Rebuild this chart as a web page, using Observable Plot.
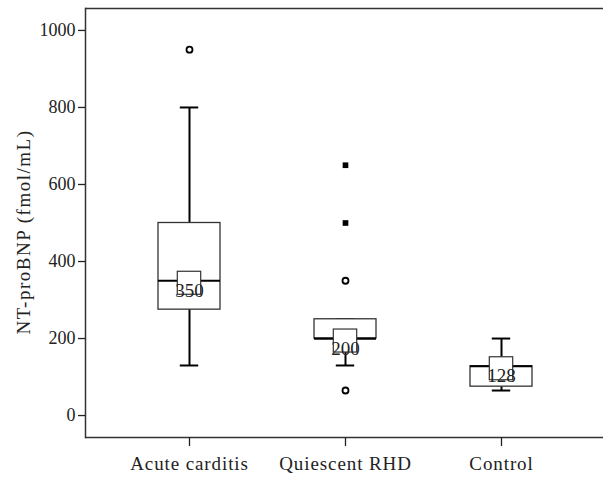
<!DOCTYPE html>
<html>
<head>
<meta charset="utf-8">
<script src="https://cdn.jsdelivr.net/npm/d3@7"></script>
<script src="https://cdn.jsdelivr.net/npm/@observablehq/plot@0.6"></script>
<style>
  html, body { margin: 0; padding: 0; background: #fff; }
  #chart svg { display: block; }
  #chart svg text { font-family: "Liberation Serif", "DejaVu Serif", serif; }
  #chart g[aria-label="x-axis tick label"] text { letter-spacing: 0.9px; }
  #chart g.ytitle text { letter-spacing: 1.5px; }
</style>
</head>
<body>
<div id="chart"></div>
<script>
const groups = ["Acute carditis", "Quiescent RHD", "Control"];
const q1 = [275, 200, 75];
const medians = [350, 200, 128];
const q3 = [500, 250, 128];
const whiskerLow = [130, 130, 65];
const whiskerHigh = [800, 250, 200];
const medianLabels = ["350", "200", "128"];
const circleGroups = ["Acute carditis", "Quiescent RHD", "Quiescent RHD"];
const circleValues = [950, 350, 65];
const squareGroups = ["Quiescent RHD", "Quiescent RHD"];
const squareValues = [650, 500];
const yTicks = [0, 200, 400, 600, 800, 1000];
const yTitle = "NT-proBNP (fmol/mL)";

const boxes = groups.map((g, i) => ({
  g, q1: q1[i], med: medians[i], q3: q3[i], lo: whiskerLow[i], hi: whiskerHigh[i], label: medianLabels[i]
}));
const circles = circleGroups.map((g, i) => ({g, v: circleValues[i]}));
const squares = squareGroups.map((g, i) => ({g, v: squareValues[i]}));

const font = "Liberation Serif";
const bw = 62.6;

const chart = Plot.plot({
  width: 603,
  height: 483,
  marginLeft: 85,
  marginRight: 0,
  marginTop: 8,
  marginBottom: 46,
  style: {fontSize: "18px", color: "#222", background: "#fff"},
  x: {type: "band", domain: groups, paddingInner: 0.6, paddingOuter: 0.455, align: 0.51, label: null},
  y: {domain: [-57, 1057], label: null},
  marks: [
    Plot.frame({anchor: "left", stroke: "#333", strokeWidth: 1.5}),
    Plot.ruleY([-57], {stroke: "#333", strokeWidth: 1.5}),
    Plot.ruleY([1057], {stroke: "#333", strokeWidth: 1.5}),
    Plot.axisY({ticks: yTicks, tickFormat: d => String(d), tickSize: 7, tickPadding: 3, stroke: "#222", strokeWidth: 1.3,
      fontSize: 18, fontFamily: font, label: null}),
    Plot.text([yTitle], {frameAnchor: "left", text: d => d, rotate: -90, dx: -62, dy: 9, textAnchor: "middle",
      fontSize: 19, fontFamily: font, fill: "#222", className: "ytitle"}),
    Plot.axisX({tickSize: 9, tickPadding: 10, stroke: "#222", strokeWidth: 1.3, fontSize: 19, fontFamily: font, label: null}),
    // whiskers
    Plot.ruleX(boxes, {x: "g", y1: "q3", y2: "hi", stroke: "#000", strokeWidth: 2}),
    Plot.ruleX(boxes, {x: "g", y1: "q1", y2: "lo", stroke: "#000", strokeWidth: 2}),
    Plot.tickY(boxes, {x: "g", y: "hi", stroke: "#000", strokeWidth: 2, insetLeft: 21.8, insetRight: 21.8}),
    Plot.tickY(boxes, {x: "g", y: "lo", stroke: "#000", strokeWidth: 2, insetLeft: 21.8, insetRight: 21.8}),
    // box
    Plot.barY(boxes, {x: "g", y1: "q1", y2: "q3", fill: "#fff", stroke: "#333", strokeWidth: 1.3}),
    // median
    Plot.tickY(boxes, {x: "g", y: "med", stroke: "#000", strokeWidth: 2.2}),
    // label box
    Plot.barY(boxes, {x: "g", y1: "med", y2: "med", fill: "#fff", stroke: "#333", strokeWidth: 1.2,
      insetLeft: (bw - 24) / 2, insetRight: (bw - 24) / 2, insetTop: -9, insetBottom: -14}),
    Plot.text(boxes, {x: "g", y: "med", text: "label", dy: 10, fontSize: 19, fill: "#222", fontFamily: font}),
    // outliers
    Plot.dot(circles, {x: "g", y: "v", r: 3, fill: "#fff", stroke: "#000", strokeWidth: 1.8}),
    Plot.dot(squares, {x: "g", y: "v", symbol: "square", r: 3.2, fill: "#000", stroke: "none"})
  ]
});
document.getElementById("chart").appendChild(chart);
</script>
</body>
</html>
